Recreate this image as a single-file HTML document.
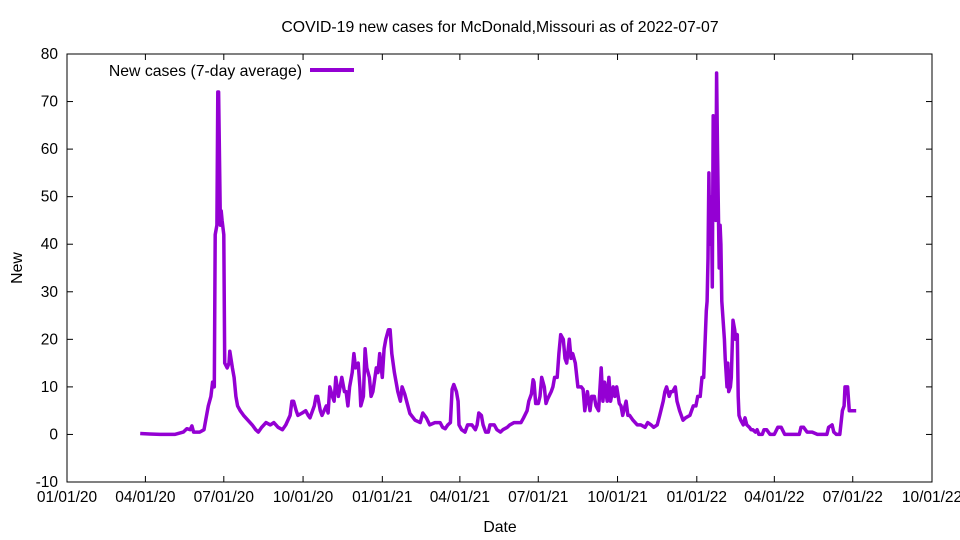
<!DOCTYPE html>
<html><head><meta charset="utf-8"><style>
body{margin:0;background:#fff;}
svg{display:block;font-family:"Liberation Sans",sans-serif;}
</style></head><body>
<svg id="chart" width="960" height="540" viewBox="0 0 960 540" xmlns="http://www.w3.org/2000/svg">
<rect x="0" y="0" width="960" height="540" fill="#fff"/>
<text x="500" y="32" font-size="15.8" text-anchor="middle">COVID-19 new cases for McDonald,Missouri as of 2022-07-07</text>
<g id="axes"></g>
<rect x="67" y="54" width="865" height="428" fill="none" stroke="#000" stroke-width="1"/>
<text x="22" y="268" font-size="15.8" text-anchor="middle" transform="rotate(-90 22 268)">New</text>
<text x="500" y="532" font-size="15.8" text-anchor="middle">Date</text>
<g>
<text x="302" y="76" font-size="15.8" text-anchor="end">New cases (7-day average)</text>
<line x1="310" y1="70" x2="354" y2="70" stroke="#9400d3" stroke-width="4"/>
</g>
<path id="series" fill="none" stroke="#9400d3" stroke-width="3.5" stroke-linejoin="round"/>
</svg>
<script>
const days=[85,96,108,125,135,139,143,145,147,154,159,161,164,167,169,171,172,174,175,176,178,179,180,182,183,186,188,189,192,194,196,198,201,205,210,215,219,222,226,231,236,240,245,250,254,259,261,263,266,268,273,277,280,282,287,289,291,294,296,301,303,305,308,310,312,315,317,319,322,324,326,328,331,333,335,338,340,341,344,346,348,351,353,355,359,361,363,366,368,370,373,375,377,380,382,384,387,389,392,398,404,410,413,417,421,427,433,436,439,442,445,447,449,452,454,455,458,462,465,470,474,476,478,481,483,486,489,491,496,499,503,506,511,514,519,523,527,530,534,536,539,541,542,544,547,549,551,554,556,558,562,564,566,569,571,573,576,578,580,583,585,587,590,593,597,599,601,604,607,609,612,614,617,620,622,624,627,629,631,634,636,638,641,643,645,649,651,653,657,662,666,671,674,678,681,685,688,692,694,696,699,701,703,706,708,711,715,718,723,727,730,732,735,737,739,742,743,744,745,746,748,749,750,751,752,753,754,755,757,758,759,760,763,764,766,767,768,770,771,773,775,776,778,779,780,782,785,787,789,792,794,796,799,801,803,807,809,812,816,821,825,829,833,839,845,850,852,855,859,865,871,876,882,884,888,890,893,895,897,900,902,903,905,906,908,911,916];
const cases=[0.2,0.1,0,0,0.5,1.2,1,1.8,0.5,0.5,1,3,6,8,11,10,42,44,72,72,44,47,45,42,15,14,15,17.5,14,12,8,6,5,4,3,2,1,0.5,1.5,2.5,2,2.5,1.5,1,2,4,7,7,5,4,4.5,5,4,3.5,6,8,8,5,4,6,4.5,10,8,7,12,8,10,12,9,9,6,10,13,17,14,15,10,6,8,18,14,12,8,9,14,13,17,12,18,20,22,22,17,13,11,9,7,10,8.5,4.4,3,2.5,4.5,3.5,2,2.5,2.5,1.5,1.2,2,2.5,9.5,10.5,9,7,2,1,0.5,2,2,1,2,4.5,4,2,0.5,0.5,2,2,1,0.5,1,1.5,2,2.5,2.5,2.5,3.5,5,7,8.5,11.5,11,6.5,6.5,8,12,10,6.5,7.5,9,10,12,12,17,21,20,16,15,20,16,17,15,10,10,9.5,5,9,5,8,8,6,5,14,7,11,7,12,7,10,8,10,6.5,6,4,7,4,4,3,2,2,1.5,2.5,2,1.5,2,4,7,9,10,8,9,9,10,7,5,3,3.5,4,6,6,8,8,12,12,26,28,37,55,40,50,31,67,55,50,45,76,60,35,44,40,28,20,16,10,15,9,10,12,24,22,20,21,8,4,3,2,3.5,2,1.5,1,1,0.5,1,0,0,1,1,0,0,1.5,1.5,0,0,0,0,1.5,1.5,0.5,0.5,0,0,0,1.5,2,0.5,0,0,0,5,6,10,10,10,5,5,5];
const yTicks=[-10,0,10,20,30,40,50,60,70,80];
const xTickDays=[0,91,182,274,366,456,547,639,731,821,912,1004];
const xTickLabels=["01/01/20","04/01/20","07/01/20","10/01/20","01/01/21","04/01/21","07/01/21","10/01/21","01/01/22","04/01/22","07/01/22","10/01/22"];

const X0=67,X1=932,Y0=482,Y1=54;
const xScale=d=>X0+(d-0)/(1004-0)*(X1-X0);
const yScale=v=>Y0-(v-(-10))/(80-(-10))*(Y0-Y1);
const NS="http://www.w3.org/2000/svg";
const axes=document.getElementById('axes');
function mk(tag,attrs){const e=document.createElementNS(NS,tag);for(const k in attrs)e.setAttribute(k,attrs[k]);return e;}
yTicks.forEach(v=>{
  const y=yScale(v);
  const t1=mk('line',{x1:X0,y1:y,x2:X0+6,y2:y,stroke:'#000'});
  
  
  axes.appendChild(t1);
  const t2=mk('line',{x1:X1-6,y1:y,x2:X1,y2:y,stroke:'#000'});
  
  
  axes.appendChild(t2);
  const l=mk('text',{x:X0-9,y:y+5,'font-size':15.5,'text-anchor':'end'});
  l.textContent=v;
  
  
  axes.appendChild(l);
});
xTickDays.forEach((d,i)=>{
  const x=xScale(d);
  const t1=mk('line',{x1:x,y1:Y0,x2:x,y2:Y0-6,stroke:'#000'});
  
  
  axes.appendChild(t1);
  const t2=mk('line',{x1:x,y1:Y1,x2:x,y2:Y1+6,stroke:'#000'});
  
  
  axes.appendChild(t2);
  const l=mk('text',{x:x,y:Y0+20,'font-size':15.5,'text-anchor':'middle'});
  l.textContent=xTickLabels[i];
  
  
  axes.appendChild(l);
});
let d='';
days.forEach((dd,i)=>{d+=(i?'L':'M')+xScale(dd).toFixed(1)+' '+yScale(cases[i]).toFixed(1);});
document.getElementById('series').setAttribute('d',d);
</script>
</body></html>
